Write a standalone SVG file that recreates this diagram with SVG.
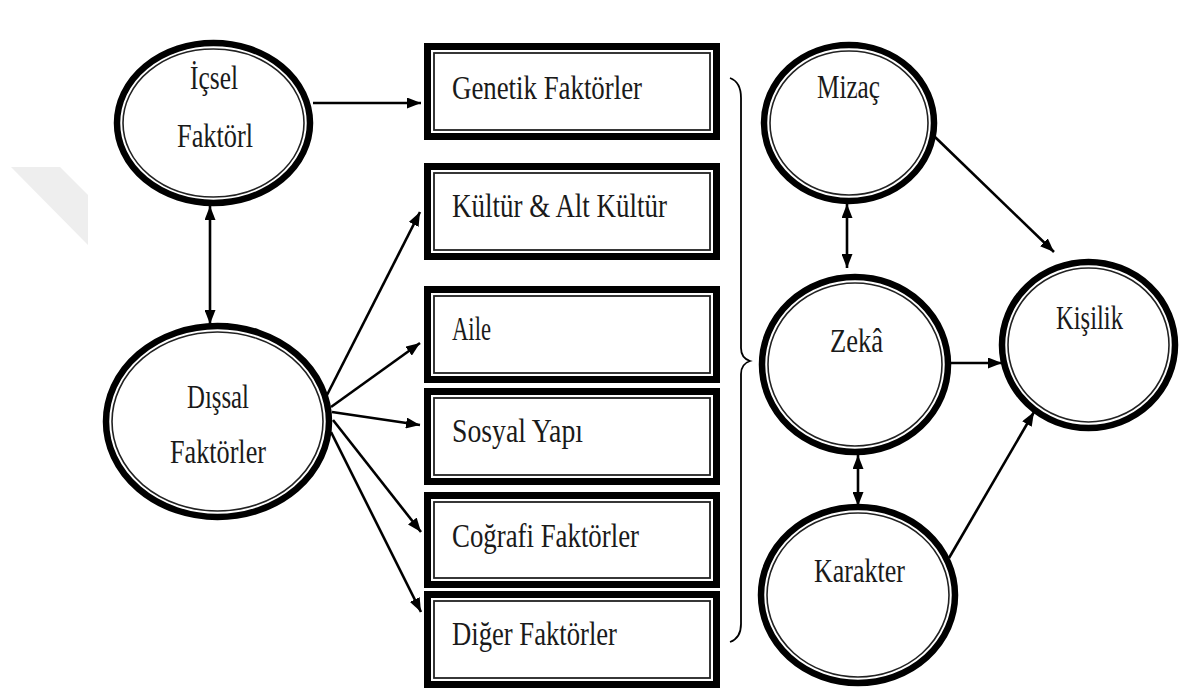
<svg xmlns="http://www.w3.org/2000/svg" width="1185" height="691" viewBox="0 0 1185 691">
<defs>
<marker id="ah" viewBox="0 0 14 11" refX="14" refY="5.5" markerWidth="14" markerHeight="11" markerUnits="userSpaceOnUse" orient="auto-start-reverse">
<path d="M0,0 L14,5.5 L0,11 Z" fill="#000"/>
</marker>
</defs>
<style>
.ob{fill:#fff;stroke:#000;stroke-width:7}
.ib{fill:none;stroke:#222;stroke-width:1.8}
.oc{fill:#fff;stroke:#000;stroke-width:6.5}
.ic{fill:none;stroke:#222;stroke-width:1.6}
.t{font-family:"Liberation Serif","Times New Roman",serif;font-size:33px;fill:#1a1a1a}
.ln{fill:none;stroke:#000;stroke-width:2.6}
</style>
<rect width="1185" height="691" fill="#fff"/>
<polygon points="11,167 60,167 88,195 88,245" fill="#eeeeee"/>

<g id="icsel">
<ellipse class="oc" cx="213.5" cy="123" rx="96.5" ry="80"/>
<ellipse class="ic" cx="213.5" cy="123" rx="90.5" ry="74"/>
<text class="t" x="190" y="89" textLength="48" lengthAdjust="spacingAndGlyphs">İçsel</text>
<text class="t" x="177" y="147" textLength="76" lengthAdjust="spacingAndGlyphs">Faktörl</text>
</g>
<g id="dissal">
<ellipse class="oc" cx="217.5" cy="421.5" rx="111.5" ry="95.5"/>
<ellipse class="ic" cx="217.5" cy="421.5" rx="105.5" ry="89.5"/>
<text class="t" x="187" y="408" textLength="62" lengthAdjust="spacingAndGlyphs">Dışsal</text>
<text class="t" x="170" y="463" textLength="96" lengthAdjust="spacingAndGlyphs">Faktörler</text>
</g>

<g id="genetik">
<rect class="ob" x="427.5" y="46.5" width="289" height="90"/>
<rect class="ib" x="434" y="53" width="276" height="77"/>
<text class="t" x="452" y="99" textLength="190" lengthAdjust="spacingAndGlyphs">Genetik Faktörler</text>
</g>
<g id="kultur">
<rect class="ob" x="427.5" y="166.5" width="289" height="90"/>
<rect class="ib" x="434" y="173" width="276" height="77"/>
<text class="t" x="452" y="217" textLength="215" lengthAdjust="spacingAndGlyphs">Kültür &amp; Alt Kültür</text>
</g>
<g id="aile">
<rect class="ob" x="427.5" y="289.5" width="289" height="90"/>
<rect class="ib" x="434" y="296" width="276" height="77"/>
<text class="t" x="452" y="340" textLength="39" lengthAdjust="spacingAndGlyphs">Aile</text>
</g>
<g id="sosyal">
<rect class="ob" x="427.5" y="391.5" width="289" height="90"/>
<rect class="ib" x="434" y="398" width="276" height="77"/>
<text class="t" x="452" y="442" textLength="131" lengthAdjust="spacingAndGlyphs">Sosyal Yapı</text>
</g>
<g id="cografi">
<rect class="ob" x="427.5" y="495.5" width="289" height="89"/>
<rect class="ib" x="434" y="502" width="276" height="76"/>
<text class="t" x="452" y="547" textLength="187" lengthAdjust="spacingAndGlyphs">Coğrafi Faktörler</text>
</g>
<g id="diger">
<rect class="ob" x="427.5" y="594.5" width="289" height="90"/>
<rect class="ib" x="434" y="601" width="276" height="77"/>
<text class="t" x="452" y="645" textLength="165" lengthAdjust="spacingAndGlyphs">Diğer Faktörler</text>
</g>

<g id="mizac">
<ellipse class="oc" cx="849" cy="123" rx="85" ry="78"/>
<ellipse class="ic" cx="849" cy="123" rx="79" ry="72"/>
<text class="t" x="817" y="98" textLength="63" lengthAdjust="spacingAndGlyphs">Mizaç</text>
</g>
<g id="zeka">
<ellipse class="oc" cx="855" cy="364.5" rx="93" ry="87.5"/>
<ellipse class="ic" cx="855" cy="364.5" rx="87" ry="81.5"/>
<text class="t" x="830" y="352" textLength="53" lengthAdjust="spacingAndGlyphs">Zekâ</text>
</g>
<g id="kisilik">
<ellipse class="oc" cx="1088.5" cy="345" rx="86.5" ry="83"/>
<ellipse class="ic" cx="1088.5" cy="345" rx="80.5" ry="77"/>
<text class="t" x="1056" y="329" textLength="67" lengthAdjust="spacingAndGlyphs">Kişilik</text>
</g>
<g id="karakter">
<ellipse class="oc" cx="858" cy="595" rx="97" ry="88"/>
<ellipse class="ic" cx="858" cy="595" rx="91" ry="82"/>
<text class="t" x="814" y="582" textLength="91" lengthAdjust="spacingAndGlyphs">Karakter</text>
</g>

<g id="connectors">
<line class="ln" x1="313" y1="103" x2="421" y2="103" marker-end="url(#ah)"/>
<line class="ln" x1="210" y1="206" x2="210" y2="324" marker-start="url(#ah)" marker-end="url(#ah)"/>
<line class="ln" x1="327" y1="395" x2="420" y2="212" marker-end="url(#ah)"/>
<line class="ln" x1="331" y1="407" x2="420" y2="343" marker-end="url(#ah)"/>
<line class="ln" x1="332" y1="412" x2="420" y2="425" marker-end="url(#ah)"/>
<line class="ln" x1="333" y1="420" x2="421" y2="532" marker-end="url(#ah)"/>
<line class="ln" x1="331" y1="432" x2="421" y2="612" marker-end="url(#ah)"/>
<path d="M730,78 Q741,82 741,98 L741,348 Q741,358 750,361 Q741,364 741,374 L741,624 Q741,638 730,642" fill="none" stroke="#000" stroke-width="1.8"/>
<line class="ln" x1="847" y1="204" x2="847" y2="268" marker-start="url(#ah)" marker-end="url(#ah)"/>
<line class="ln" x1="935" y1="137" x2="1054" y2="252" marker-end="url(#ah)"/>
<line class="ln" x1="951" y1="363" x2="1002" y2="363" marker-end="url(#ah)"/>
<line class="ln" x1="858" y1="455" x2="858" y2="506" marker-start="url(#ah)" marker-end="url(#ah)"/>
<line class="ln" x1="949" y1="558" x2="1034" y2="412" marker-end="url(#ah)"/>
</g>
</svg>
